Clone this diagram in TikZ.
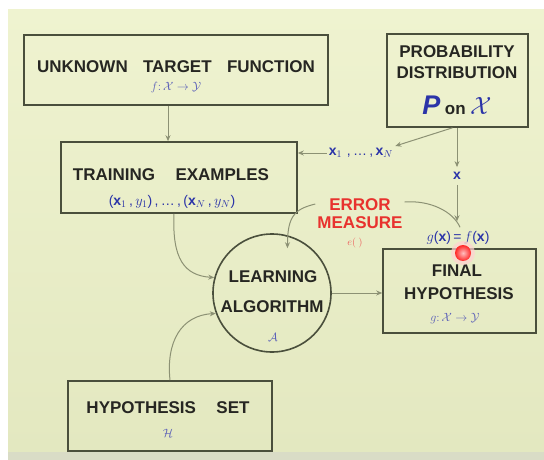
\documentclass[tikz,border=0pt]{standalone}
\usepackage{fontspec}
\setmainfont{Liberation Sans}
\usetikzlibrary{arrows.meta,calc}
\definecolor{bgtop}{HTML}{EFF3D0}
\definecolor{bgbot}{HTML}{E3E8C0}
\definecolor{band}{HTML}{D9DCC6}
\definecolor{boxline}{HTML}{4A4F3C}
\definecolor{ink}{HTML}{262622}
\definecolor{mblue}{HTML}{2B34A8}
\definecolor{lblue}{HTML}{5A5FB8}
\definecolor{ered}{HTML}{E8322E}
\definecolor{connc}{HTML}{8C9174}
\begin{document}
\begin{tikzpicture}[x=1pt,y=-1pt,
  box/.style={draw=boxline,line width=1.6pt,inner sep=0pt},
  lab/.style={font=\fontsize{17}{20}\selectfont\bfseries,text=ink,inner sep=0pt},
  sub/.style={text=lblue,inner sep=0pt,font=\fontsize{12}{14}\selectfont},
  bl/.style={text=mblue,inner sep=0pt,font=\fontsize{14}{16}\selectfont},
  conn/.style={draw=connc,line width=1pt,-{Stealth[length=6pt,width=5pt]}},
  connplain/.style={draw=connc,line width=1pt},
]
% background
\useasboundingbox (0,0) rectangle (544,460);
\fill[white] (0,0) rectangle (544,460);
\shade[top color=bgtop,bottom color=bgbot] (8,10) rectangle (544,452);
\fill[band] (8,452) rectangle (544,460);

% unknown target function
\node[box,minimum width=304pt,minimum height=70pt] (utf) at (176,70) {};
\node[lab] (utft) at (176,67) {UNKNOWN\hspace{0.9em}TARGET\hspace{0.9em}FUNCTION};
\node[sub] (utff) at (176,88) {$f\colon \mathcal{X}\to\mathcal{Y}$};

% probability distribution
\node[box,minimum width=141pt,minimum height=93pt] (prob) at (457.5,80.5) {};
\node[lab] (probt1) at (457,52) {PROBABILITY};
\node[lab] (probt2) at (457,73) {DISTRIBUTION};
\node[inner sep=0pt] (probt3) at (457,105) {{\fontsize{27}{28}\selectfont\bfseries\itshape\color{mblue}P}\hspace{0.45em}{\fontsize{17}{20}\selectfont\bfseries\color{ink}on}\hspace{0.45em}{\fontsize{28}{30}\selectfont\color{mblue}$\mathcal{X}$}};

% training examples
\node[box,minimum width=236pt,minimum height=71pt] (train) at (179,177.5) {};
\node[lab] (traint) at (171,175) {TRAINING\hspace{1.2em}EXAMPLES};
\node[bl] (trainf) at (172,202) {(\textbf{x}$_1$\,,\,$y_1$)\,,\,\dots\,,\,(\textbf{x}$_N$\,,\,$y_N$)};

% x1..xN label
\node[bl,inner sep=2pt] (xlab) at (361,153) {\textbf{x}$_1$\,\,,\,\dots\,,\,\textbf{x}$_N$};

% x label
\node[bl,inner sep=5pt] (xs) at (457,176) {\textbf{x}};

% learning algorithm
\node[draw=boxline,line width=1.6pt,circle,minimum size=118pt,inner sep=0pt] (learn) at (272,293) {};
\node[lab] (learnt1) at (273,277) {LEARNING};
\node[lab] (learnt2) at (272,307) {ALGORITHM};
\node[sub] (learnt3) at (273,337) {$\mathcal{A}$};

% final hypothesis
\node[box,minimum width=153pt,minimum height=84pt] (final) at (459.5,291) {};
\node[lab] (finalt1) at (457,271) {FINAL};
\node[lab] (finalt2) at (459,294) {HYPOTHESIS};
\node[sub] (finalt3) at (455,319) {$g\colon \mathcal{X}\to\mathcal{Y}$};

% hypothesis set
\node[box,minimum width=204pt,minimum height=70pt] (hyp) at (170,416) {};
\node[lab] (hypt1) at (168,408) {HYPOTHESIS\hspace{1.2em}SET};
\node[sub] (hypt2) at (168,433) {$\mathcal{H}$};

% error measure
\node[font=\fontsize{17}{18}\selectfont\bfseries,text=ered,align=center,inner sep=0pt] (err) at (360,214) {ERROR\\MEASURE};
\node[text=ered!80,inner sep=0pt,font=\fontsize{10}{12}\selectfont] (errf) at (355,243) {$e(\;)$};

% g(x)=f(x)
\node[bl,inner sep=2pt] (gx) at (458,238) {$g$(\textbf{x})\,=\,$f$(\textbf{x})};

% connectors
\draw[conn] ($(utf.south)+(-8,0)$) coordinate (ua) -- (ua |- train.north);
\draw[conn] (xlab.west) -- (xlab.west -| train.east);
\draw[conn] ($(prob.south)+(-5,0)$) -- (xlab.north east);
\draw[conn] (prob.south -| xs) -- (xs.north);
\draw[conn,shorten >=8pt] (xs.south) -- (xs |- gx.north);
\draw[conn] (learn.east) -- (learn.east -| final.west);
\draw[conn] ($(train.south)+(-5,0)$) .. controls ($(train.south)+(-7,45)$) and ($(learn.165)+(-30,-2)$) .. (learn.165);
\draw[conn] (hyp.north) .. controls ($(hyp.north)+(-4,-38)$) and ($(learn.200)+(-35,2)$) .. (learn.200);
\coordinate (ea) at ($(err.west)+(-2,-10)$);
\draw[conn] (ea) .. controls ($(ea)+(-20,5)$) and ($(learn.75)+(0,-20)$) .. ($(learn.75)+(0,13)$);
\coordinate (eb) at ($(err.east)+(2,-12)$);
\draw[connplain] (eb) .. controls ($(eb)+(25,-2)$) and ($(gx.north)+(-5,-18)$) .. ($(gx.north)+(2,-2)$);

% pointer highlight
\node[circle,minimum size=24pt,inner sep=0pt,fill=red!18,opacity=0.7] (glow) at (463,253) {};
\node[circle,minimum size=16pt,inner sep=0pt,shading=radial,inner color=red!25!white,outer color=red!85] (dot) at (463,253) {};
\end{tikzpicture}
\end{document}
